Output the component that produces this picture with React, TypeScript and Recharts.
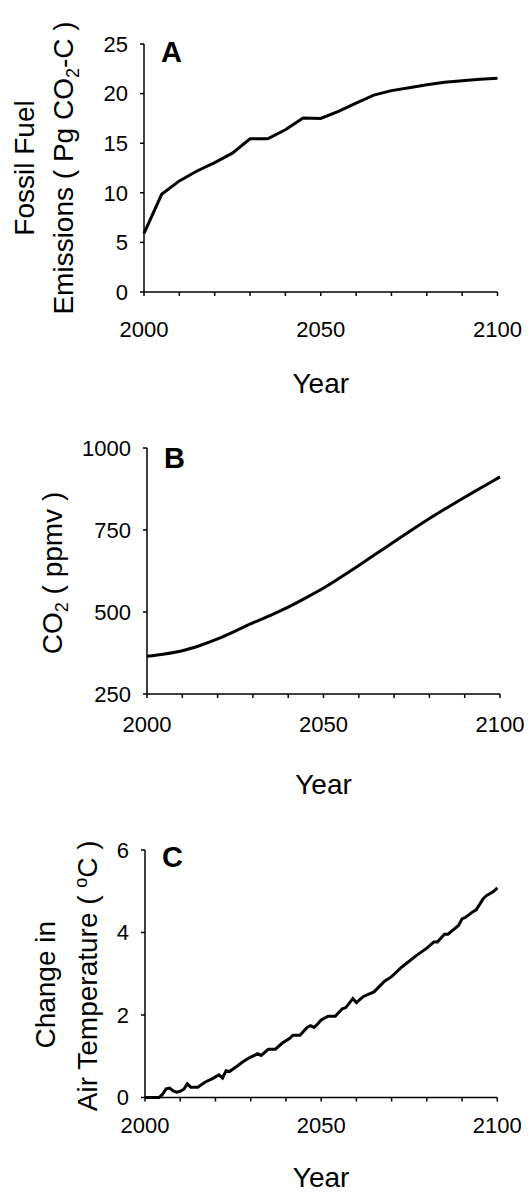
import { LineChart, Line, XAxis, YAxis, Label } from 'recharts';

const FONT = '"Liberation Sans", Arial, sans-serif';

// x ticks every decade, only 2000 / 2050 / 2100 get a label
const decadeTicks = [2000, 2010, 2020, 2030, 2040, 2050, 2060, 2070, 2080, 2090, 2100];

// A: fossil fuel emissions (Pg CO2-C)
const fossilYears = [2000, 2005, 2010, 2015, 2020, 2025, 2030, 2035, 2040, 2045, 2050, 2055, 2060, 2065, 2070, 2075, 2080, 2085, 2090, 2095, 2100];
const fossilValues = [5.9, 9.85, 11.2, 12.2, 13.05, 14.0, 15.45, 15.45, 16.35, 17.55, 17.5, 18.2, 19.05, 19.85, 20.3, 20.6, 20.9, 21.15, 21.3, 21.45, 21.55];
const fossilTicks = [0, 5, 10, 15, 20, 25];

// B: atmospheric CO2 (ppmv)
const co2Years = [2000, 2005, 2010, 2015, 2020, 2025, 2030, 2035, 2040, 2045, 2050, 2055, 2060, 2065, 2070, 2075, 2080, 2085, 2090, 2095, 2100];
const co2Values = [365, 372, 382, 398, 418, 442, 467, 490, 515, 543, 573, 607, 642, 678, 714, 750, 785, 818, 850, 881, 912];
const co2Ticks = [250, 500, 750, 1000];

// C: change in air temperature (oC)
const tempYears = [2000, 2003, 2004, 2005, 2006, 2007, 2008, 2009, 2010, 2011, 2012, 2013, 2015, 2017, 2019, 2020, 2021, 2022, 2023, 2024, 2026, 2028, 2030, 2032, 2033, 2035, 2037, 2039, 2041, 2042, 2044, 2046, 2047, 2048, 2049, 2050, 2052, 2054, 2056, 2057, 2059, 2060, 2062, 2065, 2068, 2070, 2073, 2077, 2080, 2082, 2083, 2085, 2086, 2089, 2090, 2091, 2093, 2094, 2096, 2097, 2099, 2100];
const tempValues = [0, 0, 0, 0.08, 0.21, 0.23, 0.16, 0.13, 0.15, 0.2, 0.33, 0.25, 0.25, 0.37, 0.45, 0.5, 0.55, 0.47, 0.65, 0.63, 0.75, 0.88, 0.98, 1.06, 1.02, 1.17, 1.17, 1.32, 1.43, 1.51, 1.51, 1.7, 1.74, 1.7, 1.78, 1.88, 1.97, 1.97, 2.15, 2.18, 2.4, 2.3, 2.45, 2.56, 2.82, 2.93, 3.17, 3.44, 3.62, 3.77, 3.77, 3.96, 3.96, 4.17, 4.33, 4.37, 4.5, 4.55, 4.82, 4.9, 5.0, 5.08];
const tempTicks = [0, 2, 4, 6];

const toRows = (years: number[], values: number[]) =>
  years.map((year, i) => ({ year, value: values[i] }));

const titleStyle = { fontFamily: FONT, fontSize: 28, fill: '#000' };

interface PanelProps {
  data: { year: number; value: number }[];
  height: number;
  top: number;
  left: number;
  right: number;
  plotHeight: number;
  yDomain: [number, number];
  yTicks: number[];
  xTickMargin: number;
  yearDrop: number;
  letter: string;
  letterY: number;
  curve: 'linear' | 'monotone';
  title: (cy: number) => React.ReactNode;
}

function Panel(p: PanelProps) {
  return (
    <LineChart
      width={529}
      height={p.height}
      data={p.data}
      margin={{ top: p.top, right: p.right, bottom: 0, left: 0 }}
    >
      <XAxis
        dataKey="year"
        type="number"
        domain={[2000, 2100]}
        ticks={decadeTicks}
        interval={0}
        tickFormatter={(v: number) => (v % 50 === 0 ? String(v) : '')}
        tick={{ fill: '#000', fontSize: 22, fontFamily: FONT }}
        tickSize={4}
        tickMargin={p.xTickMargin}
        height={p.height - p.top - p.plotHeight}
        axisLine={{ stroke: '#000', strokeWidth: 1.5 }}
        tickLine={{ stroke: '#000', strokeWidth: 1.5 }}
      >
        <Label
          content={(lp: any) => {
            const vb = lp.viewBox;
            return (
              <text x={vb.x + vb.width / 2} y={vb.y + p.yearDrop} textAnchor="middle" {...titleStyle}>
                Year
              </text>
            );
          }}
        />
      </XAxis>
      <YAxis
        type="number"
        domain={p.yDomain}
        ticks={p.yTicks}
        interval={0}
        width={p.left}
        tick={{ fill: '#000', fontSize: 22, fontFamily: FONT }}
        tickSize={4}
        tickMargin={12}
        axisLine={{ stroke: '#000', strokeWidth: 1.5 }}
        tickLine={{ stroke: '#000', strokeWidth: 1.5 }}
      >
        <Label
          content={(lp: any) => {
            const vb = lp.viewBox;
            return (
              <g>
                {p.title(vb.y + vb.height / 2)}
                <text x={vb.x + vb.width + 17} y={p.letterY} fontFamily={FONT} fontSize={29} fontWeight="bold" fill="#000">
                  {p.letter}
                </text>
              </g>
            );
          }}
        />
      </YAxis>
      <Line
        type={p.curve}
        dataKey="value"
        stroke="#000"
        strokeWidth={3}
        dot={false}
        isAnimationActive={false}
      />
    </LineChart>
  );
}

const rotated = (x: number, y: number) => `rotate(-90, ${x}, ${y})`;

export default function App() {
  return (
    <div style={{ position: 'absolute', left: 0, top: 0, width: 529, height: 1193, background: '#fff' }}>
      <Panel
        data={toRows(fossilYears, fossilValues)}
        height={400}
        top={44}
        left={144}
        right={31.5}
        plotHeight={248}
        yDomain={[0, 25]}
        yTicks={fossilTicks}
        xTickMargin={25}
        yearDrop={101}
        letter="A"
        letterY={62}
        curve="linear"
        title={(cy) => (
          <g>
            <text x={34} y={cy} textAnchor="middle" transform={rotated(34, cy)} {...titleStyle}>
              Fossil Fuel
            </text>
            <text x={73} y={cy} textAnchor="middle" transform={rotated(73, cy)} {...titleStyle}>
              Emissions ( Pg CO<tspan dy={6} fontSize={18}>2</tspan>
              <tspan dy={-6}>-C )</tspan>
            </text>
          </g>
        )}
      />
      <Panel
        data={toRows(co2Years, co2Values)}
        height={400}
        top={48}
        left={147}
        right={29}
        plotHeight={246}
        yDomain={[250, 1000]}
        yTicks={co2Ticks}
        xTickMargin={18}
        yearDrop={100}
        letter="B"
        letterY={68}
        curve="monotone"
        title={(cy) => (
          <text x={62} y={cy + 2} textAnchor="middle" transform={rotated(62, cy + 2)} {...titleStyle}>
            CO<tspan dy={6} fontSize={18}>2</tspan>
            <tspan dy={-6}> ( ppmv )</tspan>
          </text>
        )}
      />
      <Panel
        data={toRows(tempYears, tempValues)}
        height={393}
        top={50}
        left={145}
        right={31.7}
        plotHeight={247.5}
        yDomain={[0, 6]}
        yTicks={tempTicks}
        xTickMargin={16}
        yearDrop={89}
        letter="C"
        letterY={67}
        curve="linear"
        title={(cy) => (
          <g>
            <text x={55} y={cy + 11} textAnchor="middle" transform={rotated(55, cy + 11)} {...titleStyle}>
              Change in
            </text>
            <text x={97} y={cy + 2} textAnchor="middle" transform={rotated(97, cy + 2)} {...titleStyle}>
              Air Temperature ( <tspan dy={-10} fontSize={18}>o</tspan>
              <tspan dy={10}>C )</tspan>
            </text>
          </g>
        )}
      />
    </div>
  );
}
